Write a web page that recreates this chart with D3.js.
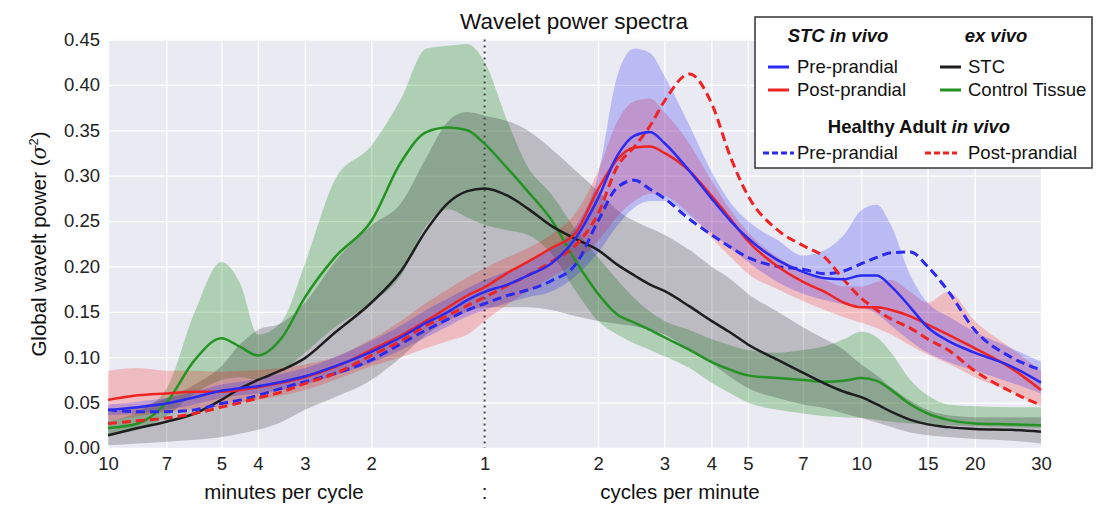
<!DOCTYPE html>
<html><head><meta charset="utf-8">
<script src="https://cdn.jsdelivr.net/npm/d3@7"></script>
<style>
body{margin:0;background:#fff;}
text{font-family:"Liberation Sans",Arial,sans-serif;}
</style></head>
<body>
<svg id="chart" width="1102" height="507"></svg>
<script>
// ---- data (x in cycles per minute) ----
const freq = [0.1,0.12,0.142857,0.17,0.2,0.225,0.25,0.29,0.3333,0.4,0.5,0.6,0.7,0.8,0.9,1.0,1.15,1.3,1.5,1.75,2,2.25,2.5,2.75,3,3.5,4,4.5,5,6,7,8,9,10,11,12,13.5,15,17,20,25,30];

const stcPre   = [0.042,0.045,0.049,0.056,0.063,0.066,0.068,0.073,0.079,0.090,0.106,0.122,0.138,0.150,0.163,0.172,0.180,0.190,0.203,0.232,0.275,0.322,0.344,0.348,0.336,0.305,0.275,0.250,0.231,0.207,0.194,0.187,0.186,0.190,0.190,0.178,0.155,0.133,0.118,0.105,0.090,0.072];
const stcPreLo = [0.036,0.038,0.042,0.048,0.055,0.058,0.060,0.064,0.070,0.080,0.094,0.108,0.122,0.134,0.145,0.152,0.160,0.166,0.172,0.190,0.215,0.245,0.265,0.272,0.272,0.255,0.237,0.220,0.205,0.183,0.170,0.163,0.158,0.155,0.148,0.135,0.118,0.105,0.095,0.085,0.072,0.060];
const stcPreHi = [0.048,0.051,0.055,0.062,0.070,0.073,0.076,0.082,0.088,0.100,0.118,0.135,0.152,0.165,0.176,0.185,0.195,0.205,0.220,0.245,0.300,0.410,0.440,0.435,0.410,0.355,0.305,0.270,0.250,0.229,0.212,0.218,0.235,0.262,0.268,0.245,0.190,0.160,0.145,0.128,0.110,0.095];

const stcPost   = [0.053,0.058,0.060,0.062,0.062,0.064,0.067,0.072,0.078,0.089,0.108,0.124,0.140,0.155,0.168,0.177,0.193,0.205,0.220,0.238,0.285,0.318,0.331,0.332,0.325,0.305,0.278,0.252,0.228,0.200,0.183,0.172,0.160,0.155,0.155,0.152,0.145,0.136,0.125,0.110,0.088,0.064];
const stcPostLo = [0.030,0.035,0.040,0.043,0.046,0.050,0.053,0.058,0.064,0.075,0.090,0.100,0.110,0.118,0.125,0.140,0.158,0.172,0.188,0.205,0.228,0.255,0.272,0.280,0.278,0.258,0.232,0.210,0.192,0.175,0.162,0.152,0.144,0.138,0.132,0.125,0.113,0.103,0.093,0.078,0.062,0.046];
const stcPostHi = [0.085,0.088,0.085,0.085,0.084,0.085,0.086,0.088,0.092,0.100,0.120,0.140,0.160,0.175,0.188,0.198,0.210,0.220,0.235,0.260,0.305,0.360,0.382,0.385,0.370,0.335,0.295,0.262,0.238,0.210,0.195,0.185,0.178,0.178,0.183,0.185,0.172,0.160,0.172,0.140,0.110,0.085];

const exStc   = [0.014,0.022,0.029,0.038,0.053,0.066,0.075,0.086,0.099,0.127,0.160,0.195,0.240,0.270,0.283,0.286,0.278,0.264,0.245,0.230,0.218,0.202,0.190,0.180,0.173,0.156,0.140,0.127,0.114,0.097,0.083,0.071,0.062,0.056,0.048,0.040,0.031,0.026,0.023,0.021,0.020,0.018];
const exStcLo = [0.003,0.005,0.007,0.009,0.012,0.016,0.020,0.029,0.042,0.056,0.075,0.100,0.125,0.140,0.150,0.155,0.155,0.155,0.152,0.145,0.140,0.137,0.134,0.130,0.125,0.108,0.093,0.078,0.066,0.055,0.048,0.044,0.038,0.033,0.028,0.023,0.017,0.014,0.012,0.010,0.008,0.005];
const exStcHi = [0.040,0.045,0.055,0.070,0.090,0.115,0.130,0.138,0.160,0.205,0.245,0.270,0.320,0.360,0.370,0.366,0.360,0.350,0.330,0.305,0.283,0.262,0.250,0.242,0.235,0.218,0.200,0.186,0.170,0.150,0.133,0.120,0.108,0.092,0.080,0.067,0.052,0.042,0.036,0.034,0.034,0.034];

const exCtrl   = [0.022,0.027,0.050,0.097,0.121,0.111,0.102,0.122,0.166,0.210,0.250,0.315,0.348,0.353,0.350,0.335,0.308,0.283,0.252,0.205,0.170,0.147,0.138,0.130,0.122,0.108,0.095,0.086,0.080,0.077,0.075,0.073,0.074,0.077,0.074,0.064,0.048,0.038,0.031,0.027,0.026,0.025];
const exCtrlLo = [0.015,0.020,0.035,0.060,0.075,0.078,0.075,0.085,0.105,0.133,0.160,0.190,0.245,0.263,0.254,0.246,0.240,0.235,0.215,0.172,0.140,0.125,0.115,0.108,0.101,0.088,0.072,0.060,0.050,0.042,0.038,0.035,0.034,0.033,0.031,0.029,0.027,0.026,0.025,0.024,0.023,0.022];
const exCtrlHi = [0.030,0.040,0.065,0.150,0.205,0.180,0.125,0.140,0.203,0.295,0.333,0.385,0.440,0.443,0.445,0.425,0.360,0.310,0.280,0.240,0.210,0.185,0.165,0.150,0.140,0.130,0.120,0.113,0.108,0.105,0.108,0.112,0.120,0.128,0.122,0.105,0.075,0.058,0.048,0.046,0.045,0.045];

const healthyPre  = [0.042,0.040,0.040,0.042,0.049,0.053,0.058,0.066,0.073,0.082,0.097,0.115,0.130,0.142,0.152,0.159,0.168,0.174,0.184,0.203,0.250,0.287,0.295,0.285,0.275,0.252,0.235,0.221,0.210,0.200,0.197,0.192,0.195,0.203,0.210,0.215,0.216,0.200,0.173,0.130,0.100,0.086];
const healthyPost = [0.027,0.030,0.033,0.038,0.045,0.050,0.055,0.062,0.071,0.082,0.102,0.118,0.135,0.146,0.157,0.166,0.179,0.190,0.205,0.224,0.258,0.310,0.332,0.355,0.382,0.412,0.380,0.320,0.278,0.240,0.223,0.210,0.185,0.165,0.152,0.142,0.132,0.120,0.108,0.085,0.062,0.047];

const xTickValues = [0.1,0.142857,0.2,0.25,0.3333,0.5,1,2,3,4,5,7,10,15,20,30];
const xTickLabels = ["10","7","5","4","3","2","1","2","3","4","5","7","10","15","20","30"];
const yTickValues = [0,0.05,0.10,0.15,0.20,0.25,0.30,0.35,0.40,0.45];

// ---- layout ----
const svg = d3.select("#chart");
const L = 108, R = 1041, T = 39.5, B = 448;
const x = d3.scaleLog().domain([0.1,30]).range([L,R]);
const y = d3.scaleLinear().domain([0,0.45]).range([B,T]);

const BLUE = "#2a2af2", RED = "#ee2424", GREEN = "#249324", BLACK = "#1e1e1e";

svg.append("rect").attr("x",L).attr("y",T).attr("width",R-L).attr("height",B-T).attr("fill","#eaeaf2");

// grid via axes
const gx = svg.append("g").attr("transform",`translate(0,${B})`)
  .call(d3.axisBottom(x).tickValues(xTickValues).tickSize(-(B-T)).tickFormat((d,i)=>xTickLabels[i]));
gx.select(".domain").remove();
gx.selectAll(".tick line").attr("stroke","#fff").attr("stroke-width",1.3);
gx.selectAll(".tick text").attr("font-size",18.5).attr("fill","#222").attr("dy","1.0em")
  .attr("font-family","Liberation Sans, Arial, sans-serif");

const gy = svg.append("g").attr("transform",`translate(${L},0)`)
  .call(d3.axisLeft(y).tickValues(yTickValues).tickSize(-(R-L)).tickFormat(d3.format(".2f")));
gy.select(".domain").remove();
gy.selectAll(".tick line").attr("stroke","#fff").attr("stroke-width",1.3);
gy.selectAll(".tick text").attr("font-size",18.5).attr("fill","#222").attr("x",-8)
  .attr("font-family","Liberation Sans, Arial, sans-serif");

// bands
const area = (lo,hi) => d3.area().x((d,i)=>x(freq[i])).y0((d,i)=>y(lo[i])).y1((d,i)=>y(hi[i])).curve(d3.curveMonotoneX)(freq);
const bands = [
  [exCtrlLo, exCtrlHi, "#008000", 0.25],
  [exStcLo, exStcHi, "#000000", 0.2],
  [stcPostLo, stcPostHi, "#ff0000", 0.2],
  [stcPreLo, stcPreHi, "#0000ff", 0.2]
];
bands.forEach(b=>{
  svg.append("path").attr("d",area(b[0],b[1])).attr("fill",b[2]).attr("fill-opacity",b[3]);
});

// dotted line at 1
svg.append("line").attr("x1",x(1)).attr("x2",x(1)).attr("y1",T).attr("y2",B)
  .attr("stroke","#444").attr("stroke-width",2).attr("stroke-dasharray","2,4");

// lines
const line = vals => d3.line().x((d,i)=>x(freq[i])).y((d,i)=>y(vals[i])).curve(d3.curveMonotoneX)(freq);
const lines = [
  [exCtrl, GREEN, null],
  [exStc, BLACK, null],
  [healthyPre, BLUE, "9,5"],
  [healthyPost, RED, "9,5"],
  [stcPost, RED, null],
  [stcPre, BLUE, null]
];
lines.forEach(l=>{
  const p = svg.append("path").attr("d",line(l[0])).attr("fill","none").attr("stroke",l[1])
    .attr("stroke-width", l[2] ? 3 : 2.5).attr("stroke-linejoin","round");
  if(l[2]) p.attr("stroke-dasharray",l[2]);
});

// texts
svg.append("text").attr("x",574).attr("y",29).attr("text-anchor","middle").attr("font-size",22.5).attr("fill","#111").text("Wavelet power spectra");
svg.append("text").attr("x",284).attr("y",499).attr("text-anchor","middle").attr("font-size",20.5).attr("fill","#111").text("minutes per cycle");
svg.append("text").attr("x",x(1)).attr("y",499).attr("text-anchor","middle").attr("font-size",20.5).attr("fill","#111").text(":");
svg.append("text").attr("x",680).attr("y",499).attr("text-anchor","middle").attr("font-size",20.5).attr("fill","#111").text("cycles per minute");

const yl = svg.append("text").attr("transform","translate(46,244) rotate(-90)").attr("text-anchor","middle")
  .attr("font-size",20.5).attr("fill","#111");
yl.append("tspan").text("Global wavelt power (");
yl.append("tspan").attr("font-style","italic").attr("font-family","DejaVu Serif, serif").text("σ");
yl.append("tspan").attr("font-size",13).attr("dy",-8).text("2");
yl.append("tspan").attr("dy",8).text(")");

// legend
const lg = svg.append("g");
lg.append("rect").attr("x",755).attr("y",17).attr("width",337).attr("height",151)
  .attr("fill","#fff").attr("stroke","#333").attr("stroke-width",1.5);
const fs = 18.5;
lg.append("text").attr("x",838).attr("y",42).attr("text-anchor","middle").attr("font-size",fs)
  .attr("font-weight","bold").attr("font-style","italic").attr("fill","#111").text("STC in vivo");
lg.append("text").attr("x",996).attr("y",42).attr("text-anchor","middle").attr("font-size",fs)
  .attr("font-weight","bold").attr("font-style","italic").attr("fill","#111").text("ex vivo");
const ht = lg.append("text").attr("x",919).attr("y",133).attr("text-anchor","middle").attr("font-size",fs)
  .attr("font-weight","bold").attr("fill","#111");
ht.append("tspan").text("Healthy Adult ");
ht.append("tspan").attr("font-style","italic").text("in vivo");

const items = [
  [768,789,67,BLUE,null,"Pre-prandial",797],
  [768,789,90,RED,null,"Post-prandial",797],
  [940,961,67,BLACK,null,"STC",968],
  [940,961,90,GREEN,null,"Control Tissue",968],
  [763,794,153,BLUE,"6,3","Pre-prandial",797],
  [925,957,153,RED,"6,3","Post-prandial",968]
];
items.forEach(it=>{
  const ln = lg.append("line").attr("x1",it[0]).attr("x2",it[1]).attr("y1",it[2]).attr("y2",it[2])
    .attr("stroke",it[3]).attr("stroke-width",3);
  if(it[4]) ln.attr("stroke-dasharray",it[4]);
  lg.append("text").attr("x",it[6]).attr("y",it[2]+6).attr("font-size",fs).attr("fill","#111").text(it[5]);
});
</script>
</body></html>
